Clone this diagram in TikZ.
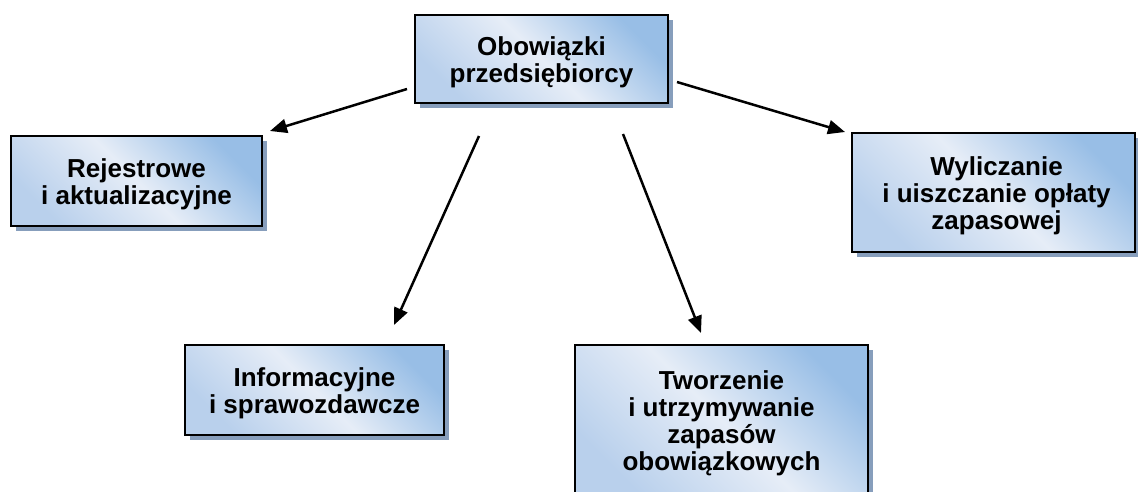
\documentclass[tikz,border=0pt]{standalone}
\usepackage{fontspec}
\setmainfont{Liberation Sans}
\usetikzlibrary{shadows,arrows.meta}
\definecolor{bdark}{RGB}{152,190,230}
\definecolor{bdark2}{RGB}{185,208,236}
\definecolor{blight}{RGB}{230,237,247}
\definecolor{shadowc}{RGB}{135,158,188}
\tikzset{
  box/.style={draw=black, line width=2.5pt, rectangle,
    top color=bdark, bottom color=bdark2, middle color=blight, shading angle=-45,
    drop shadow={shadow xshift=5pt, shadow yshift=-5pt, fill=shadowc, opacity=1},
    inner sep=0pt},
  boxtext/.style={align=center, font={\fontsize{26}{27}\selectfont\bfseries}, inner sep=0pt},
  arr/.style={line width=2.5pt, -{Triangle[length=17pt,width=14pt]}}
}
\begin{document}
\begin{tikzpicture}[x=1pt,y=-1pt]
\useasboundingbox (0,0) rectangle (1138,491);
\node[box, minimum width=253pt, minimum height=88pt] (top) at (541.5,59) {};
\node[boxtext] (topT) at ([yshift=-3pt]top.center) {Obowiązki\\przedsiębiorcy};
\node[box, minimum width=251pt, minimum height=90pt] (rej) at (136.5,181) {};
\node[boxtext] (rejT) at ([yshift=-3pt]rej.center) {Rejestrowe\\i aktualizacyjne};
\node[box, minimum width=283pt, minimum height=119pt] (wyl) at (993.5,192.5) {};
\node[boxtext] (wylT) at ([xshift=3pt,yshift=-3pt]wyl.center) {Wyliczanie\\i uiszczanie opłaty\\zapasowej};
\node[box, minimum width=259pt, minimum height=90pt] (inf) at (314.5,390) {};
\node[boxtext] (infT) at ([yshift=-3pt]inf.center) {Informacyjne\\i sprawozdawcze};
\node[box, minimum width=293pt, minimum height=150pt] (two) at (721.5,420) {};
\node[boxtext] (twoT) at ([yshift=-3pt]two.center) {Tworzenie\\i utrzymywanie\\zapasów\\obowiązkowych};
\coordinate (a1s) at (407,89);
\coordinate (a1e) at (270,131);
\coordinate (a2s) at (479,136);
\coordinate (a2e) at (394,325);
\coordinate (a3s) at (623,134);
\coordinate (a3e) at (701,333);
\coordinate (a4s) at (677,82);
\coordinate (a4e) at (845,132);
\draw[arr] (a1s) -- (a1e);
\draw[arr] (a2s) -- (a2e);
\draw[arr] (a3s) -- (a3e);
\draw[arr] (a4s) -- (a4e);
\end{tikzpicture}
\end{document}
